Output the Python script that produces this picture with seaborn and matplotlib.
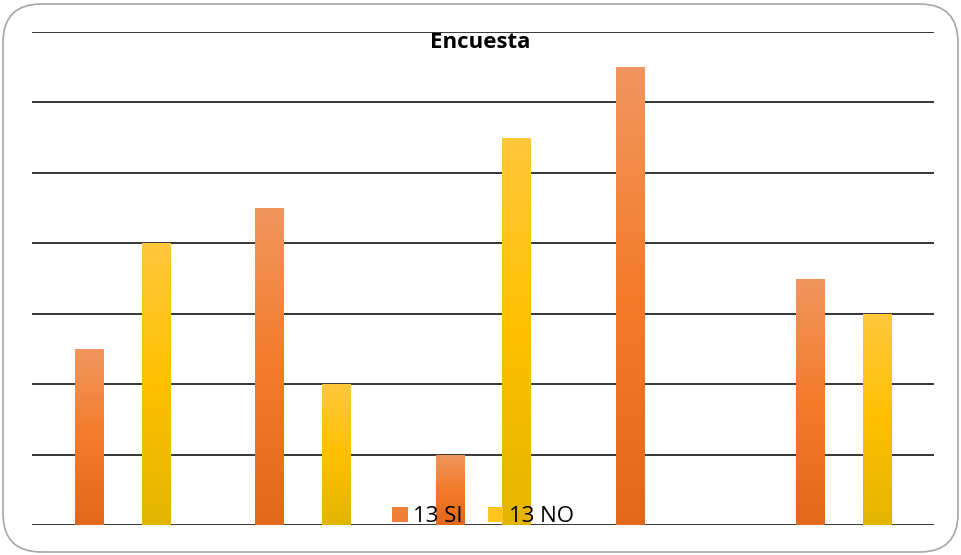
import numpy as np
import pandas as pd
import matplotlib
matplotlib.use("Agg")
import matplotlib.pyplot as plt
import seaborn as sns
from matplotlib.colors import LinearSegmentedColormap
from matplotlib.patches import FancyBboxPatch, Patch

# data
categories = ["A", "B", "C", "D", "E"]
series_names = ["13 SI", "13 NO"]
si_values = [2.5, 4.5, 1.0, 6.5, 3.5]
no_values = [4.0, 2.0, 5.5, 0.0, 3.0]

df = pd.DataFrame({
    "cat": categories * 2,
    "serie": [series_names[0]] * 5 + [series_names[1]] * 5,
    "valor": si_values + no_values,
})

# gradient colours (top -> bottom)
grad = {
    "13 SI": ["#F1965F", "#F47B2A", "#E2691C"],
    "13 NO": ["#FFC83C", "#FFC000", "#E3B500"],
}
legend_col = {"13 SI": "#F07F3A", "13 NO": "#FFC41E"}

sns.set_style("white")
plt.rcParams["font.family"] = ["Open Sans", "DejaVu Sans"]

fig = plt.figure(figsize=(9.61, 5.55), dpi=100)
ax = fig.add_axes([32 / 961, 1 - 525 / 555, (934 - 32) / 961, (525 - 32) / 555])

sns.barplot(data=df, x="cat", y="valor", hue="serie", order=categories,
            hue_order=series_names, width=0.74, gap=0.58,
            palette=[legend_col[s] for s in series_names], ax=ax,
            legend=False, zorder=2)

ax.set_ylim(0, 7)
ax.set_xlim(-0.5, 4.5)
ax.set_yticks(range(8))
ax.set_yticklabels([])
ax.set_xticks([])
ax.set_xlabel("")
ax.set_ylabel("")
for s in ax.spines.values():
    s.set_visible(False)
ax.yaxis.grid(True, color="black", lw=1.1)
ax.tick_params(left=False, bottom=False)
ax.set_axisbelow(True)

# paint gradient into each bar
patches = ax.patches
n = len(categories)
for i, p in enumerate(patches):
    serie = series_names[i // n]
    cmap = LinearSegmentedColormap.from_list(serie, grad[serie][::-1])
    x0, y0 = p.get_x(), p.get_y()
    w, h = p.get_width(), p.get_height()
    p.set_facecolor("none")
    p.set_edgecolor("none")
    if h <= 0:
        p.set_visible(False)
        continue
    g = np.linspace(0, 1, 256).reshape(-1, 1)
    im = ax.imshow(g, cmap=cmap, aspect="auto", origin="lower",
                   extent=[x0, x0 + w, y0, y0 + h], zorder=2.5)
    im.set_clip_path(p)
ax.set_xlim(-0.5, 4.5)
ax.set_ylim(0, 7)

fig.text(0.5, 1 - 42 / 555, "Encuesta", ha="center", va="center",
         fontsize=16, fontweight="bold", color="black")

handles = [Patch(facecolor=legend_col[s], edgecolor="none") for s in series_names]
leg = ax.legend(handles, series_names, loc="lower center",
                bbox_to_anchor=(0.5, -0.045), ncol=2, frameon=False,
                fontsize=16, handlelength=0.7, handleheight=0.7,
                handletextpad=0.25, columnspacing=1.1, labelcolor="black")
leg.set_zorder(5)

# rounded outer border
border = FancyBboxPatch((3 / 961, 3 / 555), 955 / 961, 548 / 555,
                        boxstyle="round,pad=0,rounding_size=0.04",
                        transform=fig.transFigure, fill=False,
                        edgecolor="#A6A6A6", lw=1.2, mutation_aspect=961 / 555)
fig.patches.append(border)

fig.savefig("out.png", dpi=100)
